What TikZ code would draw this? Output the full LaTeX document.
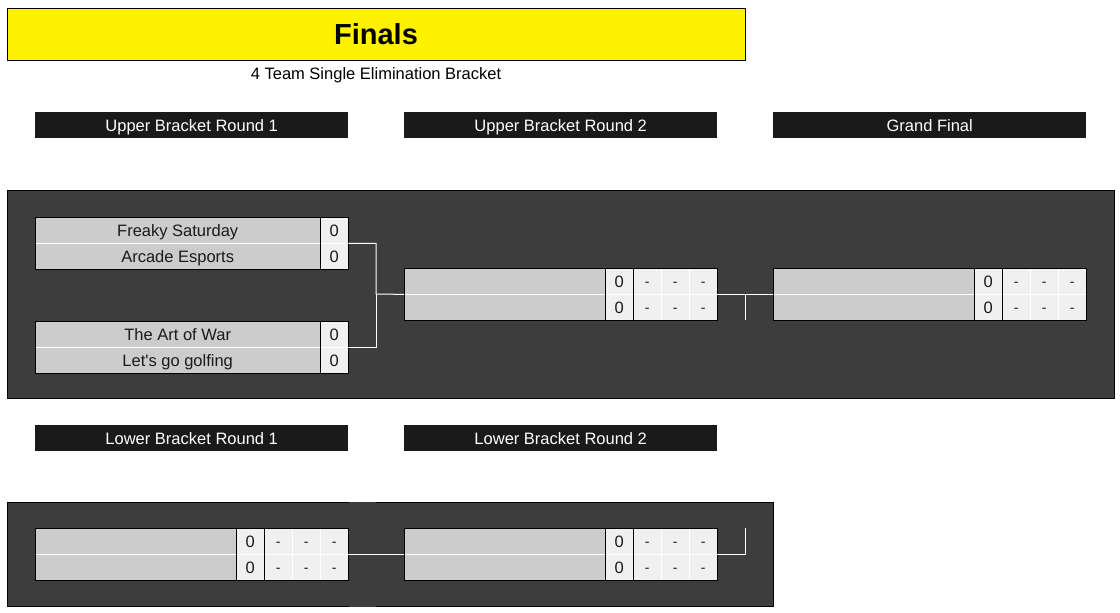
\documentclass[tikz,border=0pt]{standalone}
\usepackage{fontspec}
\setmainfont{Liberation Sans}
\usetikzlibrary{positioning}
\definecolor{panelgray}{RGB}{61,61,61}
\definecolor{namegray}{RGB}{204,204,204}
\definecolor{scoregray}{RGB}{240,240,240}
\definecolor{headblack}{RGB}{26,26,26}

\tikzset{
  titlebox/.style={draw, line width=1pt, fill=yellow, minimum width=738, minimum height=52, inner sep=0, text height=20.9pt, text depth=0pt, font=\fontsize{29}{32}\selectfont\bfseries},
  roundhead/.style={fill=headblack, text=white, minimum width=313, minimum height=26, inner sep=0, anchor=north west, text height=11.9pt, text depth=0pt, font=\fontsize{16.5}{19}\selectfont},
  teamcell/.style={fill=namegray, minimum height=26, inner sep=0, anchor=north west, text=headblack, text height=11.9pt, text depth=0pt, font=\fontsize{16.5}{19}\selectfont},
  scorecell/.style={fill=scoregray, minimum width=28, minimum height=26, inner sep=0, anchor=north west, text=headblack, text height=11.9pt, text depth=0pt, font=\fontsize{16.5}{19}\selectfont},
  dashcell/.style={fill=scoregray, minimum width=28, minimum height=26, inner sep=0, anchor=north west, text=headblack, text height=11pt, text depth=0pt, font=\fontsize{14}{16}\selectfont},
  boxline/.style={draw=black, line width=1pt},
  wire/.style={draw=white, line width=1pt}
}

\begin{document}
\begin{tikzpicture}[x=1pt, y=-1pt]
    \useasboundingbox (0,0) rectangle (1120,613);

    % title and subtitle
    \node[titlebox] (title) at (376,34) {Finals};
    \node[font=\fontsize{16.5}{19}\selectfont, text height=11.9pt, text depth=0pt, inner sep=0] (subtitle) at (376,74) {4 Team Single Elimination Bracket};

    % round headers
    \node[roundhead] (ubhead1) at (35,112) {Upper Bracket Round 1};
    \node[roundhead] (ubhead2) at (404,112) {Upper Bracket Round 2};
    \node[roundhead] (gfhead) at (773,112) {Grand Final};
    \node[roundhead] (lbhead1) at (35,425) {Lower Bracket Round 1};
    \node[roundhead] (lbhead2) at (404,425) {Lower Bracket Round 2};

    % dark panels
    \draw[boxline, fill=panelgray] (7,190) rectangle (1114,398);
    \draw[boxline, fill=panelgray] (7,502) rectangle (773,606);
    \fill[panelgray] (349,501.5) rectangle (376,606.5);

    % upper round 1, first match
    \node[teamcell, minimum width=285] (a1) at (35,217) {Freaky Saturday};
    \node[teamcell, minimum width=285] (a2) at (35,243) {Arcade Esports};
    \node[scorecell] (as1) at (320,217) {0};
    \node[scorecell] (as2) at (320,243) {0};
    \draw[wire] (a1.south west) -- (as1.south east);
    \draw[boxline] (as1.north west) -- (as2.south west);
    \draw[boxline] (a1.north west) rectangle (as2.south east);

    % upper round 1, second match
    \node[teamcell, minimum width=285] (c1) at (35,321) {The Art of War};
    \node[teamcell, minimum width=285] (c2) at (35,347) {Let\textquotesingle s go golfing};
    \node[scorecell] (cs1) at (320,321) {0};
    \node[scorecell] (cs2) at (320,347) {0};
    \draw[wire] (c1.south west) -- (cs1.south east);
    \draw[boxline] (cs1.north west) -- (cs2.south west);
    \draw[boxline] (c1.north west) rectangle (cs2.south east);

    % upper round 2
    \node[teamcell, minimum width=201] (b1) at (404,268) {};
    \node[teamcell, minimum width=201] (b2) at (404,294) {};
    \node[scorecell] (bs1) at (605,268) {0};
    \node[scorecell] (bs2) at (605,294) {0};
    \foreach \k in {0,1,2} {
        \node[dashcell] (bd1\k) at (633+28*\k,268) {-};
        \node[dashcell] (bd2\k) at (633+28*\k,294) {-};
    }
    \draw[wire] (b1.south west) -- (bd12.south east);
    \draw[wire] (bd11.north west) -- (bd21.south west);
    \draw[wire] (bd12.north west) -- (bd22.south west);
    \draw[boxline] (bs1.north west) -- (bs2.south west);
    \draw[boxline] (bs1.north east) -- (bs2.south east);
    \draw[boxline] (b1.north west) rectangle (bd22.south east);

    % grand final
    \node[teamcell, minimum width=201] (g1) at (773,268) {};
    \node[teamcell, minimum width=201] (g2) at (773,294) {};
    \node[scorecell] (gs1) at (974,268) {0};
    \node[scorecell] (gs2) at (974,294) {0};
    \foreach \k in {0,1,2} {
        \node[dashcell] (gd1\k) at (1002+28*\k,268) {-};
        \node[dashcell] (gd2\k) at (1002+28*\k,294) {-};
    }
    \draw[wire] (g1.south west) -- (gd12.south east);
    \draw[wire] (gd11.north west) -- (gd21.south west);
    \draw[wire] (gd12.north west) -- (gd22.south west);
    \draw[boxline] (gs1.north west) -- (gs2.south west);
    \draw[boxline] (gs1.north east) -- (gs2.south east);
    \draw[boxline] (g1.north west) rectangle (gd22.south east);

    % lower round 1
    \node[teamcell, minimum width=201] (l1) at (35,528) {};
    \node[teamcell, minimum width=201] (l2) at (35,554) {};
    \node[scorecell] (ls1) at (236,528) {0};
    \node[scorecell] (ls2) at (236,554) {0};
    \foreach \k in {0,1,2} {
        \node[dashcell] (ld1\k) at (264+28*\k,528) {-};
        \node[dashcell] (ld2\k) at (264+28*\k,554) {-};
    }
    \draw[wire] (l1.south west) -- (ld12.south east);
    \draw[wire] (ld11.north west) -- (ld21.south west);
    \draw[wire] (ld12.north west) -- (ld22.south west);
    \draw[boxline] (ls1.north west) -- (ls2.south west);
    \draw[boxline] (ls1.north east) -- (ls2.south east);
    \draw[boxline] (l1.north west) rectangle (ld22.south east);

    % lower round 2
    \node[teamcell, minimum width=201] (m1) at (404,528) {};
    \node[teamcell, minimum width=201] (m2) at (404,554) {};
    \node[scorecell] (ms1) at (605,528) {0};
    \node[scorecell] (ms2) at (605,554) {0};
    \foreach \k in {0,1,2} {
        \node[dashcell] (md1\k) at (633+28*\k,528) {-};
        \node[dashcell] (md2\k) at (633+28*\k,554) {-};
    }
    \draw[wire] (m1.south west) -- (md12.south east);
    \draw[wire] (md11.north west) -- (md21.south west);
    \draw[wire] (md12.north west) -- (md22.south west);
    \draw[boxline] (ms1.north west) -- (ms2.south west);
    \draw[boxline] (ms1.north east) -- (ms2.south east);
    \draw[boxline] (m1.north west) rectangle (md22.south east);

    % connectors
    \coordinate (ubjoin) at (376,294);
    \draw[wire] (as1.south east) -| (ubjoin) -- (b1.south west);
    \draw[wire] (cs1.south east) -| (ubjoin);
    \coordinate (gfdrop) at (745,320);
    \draw[wire] (bd12.south east) -- (g1.south west);
    \draw[wire] (gfdrop |- g1.south west) -- (gfdrop);
    \coordinate (lbrise) at (745,528);
    \draw[wire] (ld12.south east) -- (m1.south west);
    \draw[wire] (md12.south east) -| (lbrise);
\end{tikzpicture}
\end{document}
